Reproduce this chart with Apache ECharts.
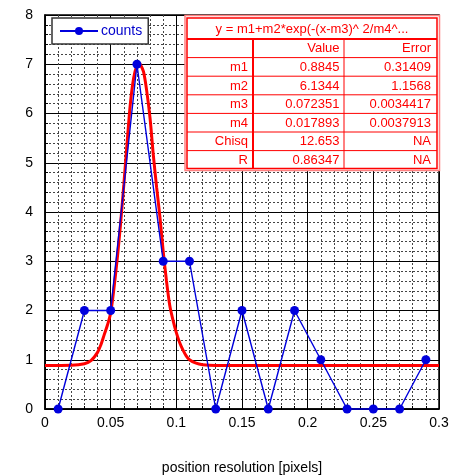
<!DOCTYPE html>
<html>
<head>
<meta charset="utf-8">
<script src="https://cdn.jsdelivr.net/npm/echarts@6/dist/echarts.min.js"></script>
<style>
  html, body { margin: 0; padding: 0; background: #fff; }
  #chart { width: 455px; height: 475px; }
</style>
</head>
<body>
<div id="chart"></div>
<script>
// measured histogram points
const binX = [0.01, 0.03, 0.05, 0.07, 0.09, 0.11, 0.13, 0.15, 0.17, 0.19, 0.21, 0.23, 0.25, 0.27, 0.29];
const counts = [0, 2, 2, 7, 3, 3, 0, 2, 0, 2, 1, 0, 0, 0, 1];

// fitted gaussian
const fitX = [0, 0.02, 0.03, 0.035, 0.04, 0.0425, 0.045, 0.0475, 0.05, 0.0525, 0.055, 0.0575, 0.06, 0.0625, 0.065, 0.0675, 0.07, 0.0715,
  0.0725, 0.075, 0.0775, 0.08, 0.0825, 0.085, 0.0875, 0.09, 0.0925, 0.095, 0.0975, 0.1, 0.1025, 0.105, 0.1075, 0.11, 0.115, 0.12, 0.13, 0.3];
const fitY = [0.885, 0.89, 0.92, 0.98, 1.15, 1.3, 1.5, 1.7, 1.95, 2.45, 3.05, 3.75, 4.55, 5.4, 6.2, 6.72, 6.98, 7.02,
  7.0, 6.85, 6.45, 5.9, 5.15, 4.5, 3.9, 3.2, 2.6, 2.1, 1.8, 1.55, 1.35, 1.2, 1.08, 1.0, 0.93, 0.9, 0.885, 0.885];

// fit result table
const fitTitle = 'y = m1+m2*exp(-(x-m3)^ 2/m4^...';
const paramNames = ['', 'm1', 'm2', 'm3', 'm4', 'Chisq', 'R'];
const paramValues = ['Value', '0.8845', '6.1344', '0.072351', '0.017893', '12.653', '0.86347'];
const paramErrors = ['Error', '0.31409', '1.1568', '0.0034417', '0.0037913', 'NA', 'NA'];

const myChart = echarts.init(document.getElementById('chart'));

// table drawing
const red = '#ff0000';
const tblL = 187, tblR = 437, tblT = 18, titleB = 39;
const rowH = 18.6;
const col1 = 253, col2 = 344;
const tableEls = [
  { type: 'rect', shape: { x: 185, y: 15.5, width: 254.5, height: 155 }, style: { fill: '#fff', stroke: '#ff8080', lineWidth: 1.5 }, z: 100 },
  { type: 'rect', shape: { x: tblL, y: tblT, width: tblR - tblL, height: 150.5 }, style: { fill: '#fff', stroke: red, lineWidth: 1.5 }, z: 101 },
  { type: 'line', shape: { x1: tblL, y1: titleB, x2: tblR, y2: titleB }, style: { stroke: red, lineWidth: 2 }, z: 102 },
  { type: 'line', shape: { x1: col1, y1: titleB, x2: col1, y2: tblT + 150.5 }, style: { stroke: red, lineWidth: 2 }, z: 102 },
  { type: 'line', shape: { x1: col2, y1: titleB, x2: col2, y2: tblT + 150.5 }, style: { stroke: red, lineWidth: 1 }, z: 102 },
  { type: 'text', x: (tblL + tblR) / 2, y: 29, style: { text: fitTitle, fill: red, font: '13px "Liberation Sans", Arial', align: 'center', verticalAlign: 'middle' }, z: 103 }
];
for (let i = 0; i < paramNames.length; i++) {
  const top = titleB + i * rowH;
  if (i > 0) {
    tableEls.push({ type: 'line', shape: { x1: tblL, y1: top, x2: tblR, y2: top }, style: { stroke: red, lineWidth: 1 }, z: 102 });
  }
  const cy = top + rowH / 2 + 0.5;
  const font = '13px "Liberation Sans", Arial';
  tableEls.push({ type: 'text', x: 248, y: cy, style: { text: paramNames[i], fill: red, font: font, align: 'right', verticalAlign: 'middle' }, z: 103 });
  tableEls.push({ type: 'text', x: 339.5, y: cy, style: { text: paramValues[i], fill: red, font: font, align: 'right', verticalAlign: 'middle' }, z: 103 });
  tableEls.push({ type: 'text', x: 431, y: cy, style: { text: paramErrors[i], fill: red, font: font, align: 'right', verticalAlign: 'middle' }, z: 103 });
}

const axisFont = { fontSize: 14, fontFamily: '"Liberation Sans", Arial', color: '#000' };

const options = {
  animation: false,
  textStyle: { fontFamily: '"Liberation Sans", Arial' },
  grid: {
    left: 45, right: 16, top: 15, bottom: 66,
    outerBoundsMode: 'none',
    show: true, borderColor: '#000', borderWidth: 1.5, backgroundColor: '#fff'
  },
  legend: {
    left: 52, top: 18,
    backgroundColor: '#fff',
    borderColor: '#333', borderWidth: 1.5,
    padding: [6, 6, 6, 7],
    itemWidth: 38, itemHeight: 10, itemGap: 4,
    textStyle: { fontSize: 14, color: '#0000cc', fontFamily: '"Liberation Sans", Arial', padding: [0, 0, 0, -2] },
    data: ['counts'],
    z: 50
  },
  xAxis: {
    type: 'value', min: 0, max: 0.3, interval: 0.05,
    name: 'position resolution [pixels]',
    nameLocation: 'middle', nameGap: 52,
    nameTextStyle: axisFont,
    axisLine: { show: true, onZero: false, lineStyle: { color: '#000', width: 1.5 } },
    axisTick: { show: true, inside: true, length: 6, lineStyle: { color: '#000' } },
    minorTick: { show: true, splitNumber: 5, length: 3, lineStyle: { color: '#000' } },
    axisLabel: Object.assign({ margin: 7, formatter: v => String(+v.toFixed(2)) }, axisFont),
    splitLine: { show: true, lineStyle: { color: '#000', width: 1 } },
    minorSplitLine: { show: true, lineStyle: { color: '#444', width: 1, type: [2, 2] } }
  },
  yAxis: {
    type: 'value', min: 0, max: 8, interval: 1,
    axisLine: { show: true, lineStyle: { color: '#000', width: 1.5 } },
    axisTick: { show: true, inside: true, length: 6, lineStyle: { color: '#000' } },
    minorTick: { show: true, splitNumber: 5, length: 3, lineStyle: { color: '#000' } },
    axisLabel: Object.assign({ margin: 12 }, axisFont),
    splitLine: { show: true, lineStyle: { color: '#000', width: 1 } },
    minorSplitLine: { show: true, lineStyle: { color: '#444', width: 1, type: [2, 2] } }
  },
  series: [
    {
      name: 'fit',
      type: 'line',
      data: fitX.map((x, i) => [x, fitY[i]]),
      smooth: 0.3,
      symbol: 'none',
      lineStyle: { color: '#ff0000', width: 3 },
      z: 3
    },
    {
      name: 'counts',
      type: 'line',
      data: binX.map((x, i) => [x, counts[i]]),
      symbol: 'circle',
      symbolSize: 9,
      lineStyle: { color: '#0000dd', width: 1.4 },
      itemStyle: { color: '#0000dd' },
      clip: false,
      z: 4
    }
  ],
  graphic: tableEls
};

myChart.setOption(options);
</script>
</body>
</html>
